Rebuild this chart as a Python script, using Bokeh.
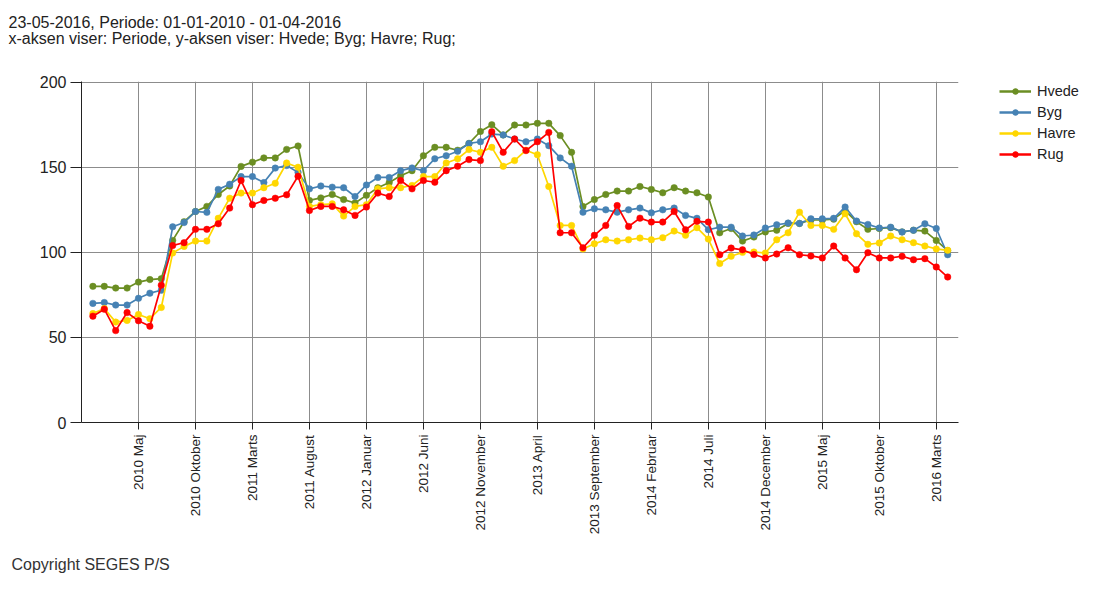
from bokeh.plotting import figure
from bokeh.models import Range1d, FixedTicker, Legend, LegendItem, Title
from bokeh.layouts import row
from bokeh.embed import file_html
from bokeh.resources import INLINE
import math

# ---------------- data ----------------
tick_idx = [4, 9, 14, 19, 24, 29, 34, 39, 44, 49, 54, 59, 64, 69, 74]
tick_labels = ["2010 Maj", "2010 Oktober", "2011 Marts", "2011 August", "2012 Januar",
               "2012 Juni", "2012 November", "2013 April", "2013 September", "2014 Februar",
               "2014 Juli", "2014 December", "2015 Maj", "2015 Oktober", "2016 Marts"]

hvede = [80, 80, 79, 79, 82.5, 84, 84.5, 107, 118, 124, 127, 134, 139, 150.5, 153, 155.5,
         155.5, 160.5, 162.5, 130.5, 132, 134, 131, 129, 133.5, 138, 141, 145, 148, 156.8,
         161.7, 161.7, 160, 164, 171, 175, 169, 174.8, 174.8, 175.8, 175.8, 168.6, 158.8,
         127, 131, 134, 136, 136, 138.7, 137, 135, 138, 136, 135, 132.5, 111.5, 114, 106.6,
         109, 112, 113, 117, 117, 119, 119, 119.5, 124.5, 118, 113.5, 114, 114.5, 112, 113,
         112.5, 107, 101]
byg = [70, 70.5, 69, 69, 73, 76, 77.7, 115, 117.5, 124, 123.5, 137, 140, 144.5, 144.5, 141,
       149.5, 151, 147, 137.3, 139, 138.3, 138, 132.8, 139.6, 144, 144, 148, 149.6, 148, 155,
       156.8, 159.4, 164, 165, 169.5, 169, 166.6, 165, 166.6, 162.7, 155.5, 150.6, 123.6,
       125.6, 125, 123.6, 125, 126, 123.2, 125, 126, 121.7, 120, 113.3, 114.8, 114.8, 109.6,
       110.2, 114.3, 116.2, 117.2, 117, 119.7, 119.7, 120, 126.6, 118.4, 116.4, 114.3, 114.8,
       112, 113, 116.8, 114, 98.6]
havre = [64, 67, 59, 60, 63.5, 61, 67.6, 99.6, 103.5, 106.6, 106.6, 120, 131.8, 134.8, 134.8,
         138, 140.6, 152.5, 150, 127, 128, 128.5, 121.3, 127, 128, 137.3, 138, 138, 139.3,
         144.5, 144.5, 152.5, 155, 160.4, 158.8, 161.7, 150.6, 153.9, 160, 157.4, 138.7, 115.8,
         115.8, 102, 105, 107.4, 106.6, 107.4, 108.4, 107.4, 108.6, 112.5, 110, 114.5, 107.8,
         93.4, 97.7, 100, 100.2, 99.6, 107.4, 111.5, 123.6, 115.8, 115.8, 113.5, 122.7, 110.9,
         104.7, 105.5, 109.6, 107.4, 105.7, 103.7, 102, 101.2]
rug = [62.5, 66.6, 54, 64.6, 59.8, 56.6, 80.7, 104, 105.7, 113.5, 113.5, 116.8, 126, 142.2, 128,
       130.5, 131.8, 133.8, 144.7, 124.6, 127, 127, 125, 121.7, 126.6, 134.8, 132.8, 142.2,
       137.3, 142.2, 141.2, 148, 150.6, 154.5, 153.9, 170.9, 158.8, 166.6, 159.8, 165, 170.5,
       111.5, 111.5, 102.7, 110, 115.8, 127.5, 115.2, 120.1, 117.8, 117.8, 124, 113.3, 118.2,
       117.8, 98.6, 102.5, 101.5, 98.7, 96.7, 99, 102.7, 98.6, 97.9, 96.7, 103.7, 96.7, 89.8,
       99.8, 96.7, 96.7, 97.7, 95.7, 96.3, 91.4, 85.5]

series_names = ["Hvede", "Byg", "Havre", "Rug"]
series_vals = [hvede, byg, havre, rug]
series_colors = ["#6b8e23", "#4682b4", "#ffd700", "#ff0000"]

header = ("23-05-2016, Periode: 01-01-2010 - 01-04-2016\n"
          "x-aksen viser: Periode, y-aksen viser: Hvede; Byg; Havre; Rug;")
footer = "Copyright SEGES P/S"

x = list(range(len(hvede)))

FONT = "Liberation Sans"
TXT = "#222222"

# ---------------- main chart ----------------
p = figure(width=962, height=576, output_backend="svg", toolbar_location=None,
           x_range=Range1d(-1.0, 75.95), y_range=Range1d(0, 200.4),
           min_border_left=81, min_border_top=81, min_border_right=4, min_border_bottom=154)
p.outline_line_color = None

for name, vals, col in zip(series_names, series_vals, series_colors):
    p.line(x, vals, line_color=col, line_width=1.7)
    p.scatter(x, vals, size=6.5, fill_color=col, line_color=col, line_width=0.5)

p.xaxis.ticker = FixedTicker(ticks=tick_idx)
p.xaxis.major_label_overrides = {t: lab for t, lab in zip(tick_idx, tick_labels)}
p.xaxis.major_label_orientation = math.pi / 2
p.xaxis.major_label_text_font = FONT
p.xaxis.major_label_text_font_size = "13.5px"
p.xaxis.major_label_text_color = TXT
p.xaxis.minor_tick_line_color = None
p.xaxis.major_tick_in = 0
p.xaxis.major_tick_out = 7
p.xaxis.axis_line_color = "#222222"
p.xaxis.major_tick_line_color = "#222222"
p.xaxis.major_label_standoff = 5

p.yaxis.ticker = FixedTicker(ticks=[0, 50, 100, 150, 200])
p.yaxis.major_label_text_font = FONT
p.yaxis.major_label_text_font_size = "16px"
p.yaxis.major_label_text_color = TXT
p.yaxis.minor_tick_line_color = None
p.yaxis.major_tick_in = 0
p.yaxis.major_tick_out = 11
p.yaxis.axis_line_color = "#222222"
p.yaxis.major_tick_line_color = "#222222"
p.yaxis.major_label_standoff = 4

p.xgrid.ticker = FixedTicker(ticks=tick_idx)
p.xgrid.grid_line_color = "#8c8c8c"
p.ygrid.grid_line_color = "#8c8c8c"

# header: spacer nearest the plot, then the two-line header text
p.add_layout(Title(text=" ", text_font_size="1px", standoff=18), "above")
p.add_layout(Title(text=header, align="left", offset=-73, standoff=22,
                   vertical_align="top", text_font=FONT, text_font_size="16px",
                   text_font_style="normal", text_color=TXT, text_line_height=0.98),
             "above")
# footer: spacer below the axis, then the copyright line
p.add_layout(Title(text=" ", text_font_size="1px", standoff=12), "below")
p.add_layout(Title(text=footer, align="left", offset=-70, standoff=2,
                   vertical_align="bottom", text_font=FONT, text_font_size="16px",
                   text_font_style="normal", text_color="#333333"), "below")

# ---------------- legend panel ----------------
# the series are drawn here outside the visible range; only their legend shows
lg = figure(width=118, height=576, output_backend="svg", toolbar_location=None,
            x_axis_type=None, y_axis_type=None,
            min_border_left=37, min_border_top=64, min_border_right=0, min_border_bottom=0,
            x_range=Range1d(1000, 1001), y_range=Range1d(1000, 1001))
lg.outline_line_color = None
lg.grid.visible = False
items = []
for name, vals, col in zip(series_names, series_vals, series_colors):
    l = lg.line(x, vals, line_color=col, line_width=2.5)
    s = lg.scatter(x, vals, size=4, fill_color=col, line_color=col)
    items.append(LegendItem(label=name, renderers=[l, s]))
legend = Legend(items=items, location="top_left", border_line_color=None,
                background_fill_alpha=0, label_text_font=FONT,
                label_text_font_size="14.5px", label_text_color=TXT,
                glyph_width=32, glyph_height=14, label_height=20, spacing=1,
                padding=0, margin=0, label_standoff=6)
lg.add_layout(legend, "center")

open("out.html", "w").write(file_html(row(p, lg, spacing=0), INLINE))
